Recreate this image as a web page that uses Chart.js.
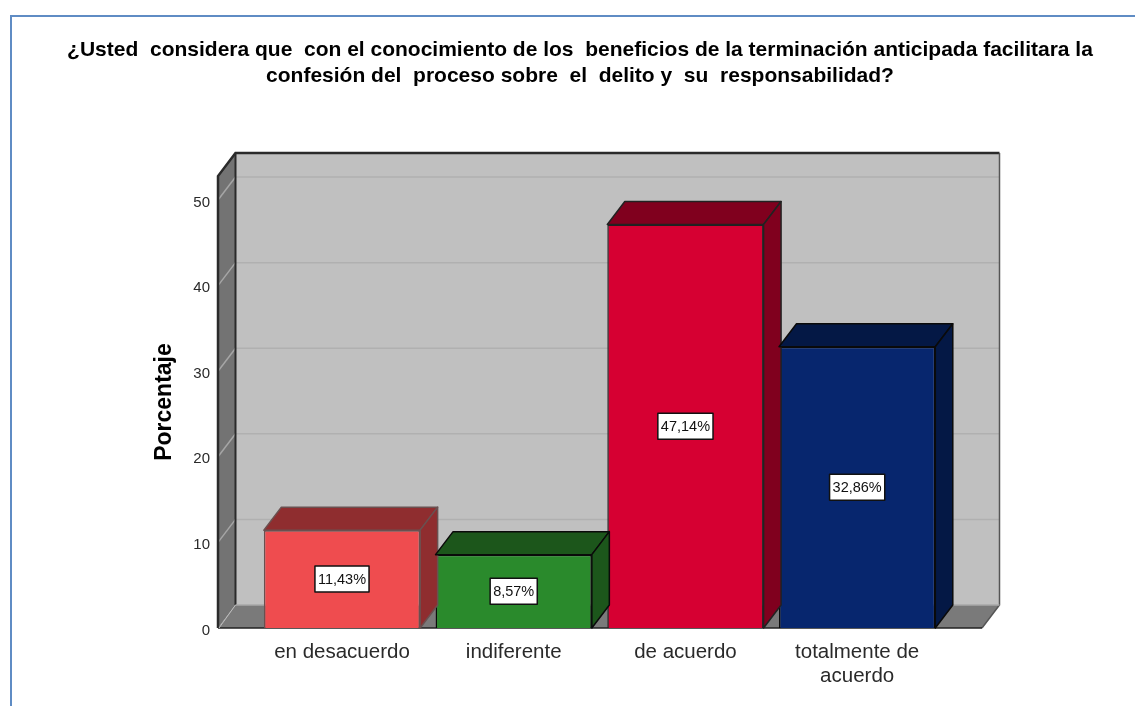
<!DOCTYPE html>
<html>
<head>
<meta charset="utf-8">
<style>html,body{margin:0;padding:0;background:#fff;overflow:hidden}canvas{display:block}</style>
<script src="https://cdn.jsdelivr.net/npm/chart.js@4"></script>
</head>
<body>
<canvas id="c" width="1135" height="706"></canvas>
<script>
const titleLines = [
  "¿Usted  considera que  con el conocimiento de los  beneficios de la terminación anticipada facilitara la",
  "confesión del  proceso sobre  el  delito y  su  responsabilidad?"
];
const yTitle = "Porcentaje";
const categories = [["en desacuerdo"], ["indiferente"], ["de acuerdo"], ["totalmente de", "acuerdo"]];
const values = [11.43, 8.57, 47.14, 32.86];
const valueLabels = ["11,43%", "8,57%", "47,14%", "32,86%"];
const yTicks = [0, 10, 20, 30, 40, 50];
const frontColors = ["#EF4C4F", "#2A8A2C", "#D60032", "#07266E"];
const sideColors = ["#8F2D2F", "#1C561B", "#80001E", "#041845"];
const edgeColors = ["#6a5050", "#0a0a0a", "#222222", "#0a0a0a"];

const FONT = "'Liberation Sans', Arial, sans-serif";
const DX = 17.5, DY = -23;

const scene = {
  id: "scene",
  afterLayout(chart) {
    chart.titleBlock.left = 25;
    chart.titleBlock.right = 1135;
  },
  beforeDraw(chart) {
    const c = chart.ctx;
    c.save();
    c.fillStyle = "#fff";
    c.fillRect(0, 0, chart.width, chart.height);
    c.strokeStyle = "#5F8CC4";
    c.lineWidth = 2;
    c.beginPath();
    c.moveTo(11, chart.height);
    c.lineTo(11, 16);
    c.lineTo(chart.width, 16);
    c.stroke();
    c.restore();
  },
  beforeDatasetsDraw(chart) {
    const c = chart.ctx, a = chart.chartArea, y = chart.scales.y;
    const L = a.left, R = a.right, T = a.top, B = a.bottom;
    c.save();
    c.fillStyle = "#C0C0C0";
    c.fillRect(L + DX, T + DY, R - L, B - T);
    c.fillStyle = "#737373";
    c.beginPath();
    c.moveTo(L, B); c.lineTo(L, T); c.lineTo(L + DX, T + DY); c.lineTo(L + DX, B + DY);
    c.closePath(); c.fill();
    c.fillStyle = "#7A7A7A";
    c.beginPath();
    c.moveTo(L, B); c.lineTo(R, B); c.lineTo(R + DX, B + DY); c.lineTo(L + DX, B + DY);
    c.closePath(); c.fill();
    c.lineWidth = 1.5;
    yTicks.slice(1).forEach(v => {
      const p = y.getPixelForValue(v);
      c.strokeStyle = "#B0B0B0";
      c.beginPath(); c.moveTo(L + DX, p + DY); c.lineTo(R + DX, p + DY); c.stroke();
      c.strokeStyle = "#A6A6A6";
      c.beginPath(); c.moveTo(L, p); c.lineTo(L + DX, p + DY); c.stroke();
    });
    c.strokeStyle = "#2A2A2A";
    c.lineWidth = 2.5;
    c.beginPath(); c.moveTo(L, B); c.lineTo(L, T); c.lineTo(L + DX, T + DY); c.lineTo(R + DX, T + DY); c.stroke();
    c.lineWidth = 2;
    c.beginPath(); c.moveTo(L + DX, T + DY); c.lineTo(L + DX, B + DY); c.stroke();
    c.strokeStyle = "#555";
    c.lineWidth = 1.5;
    c.beginPath(); c.moveTo(R + DX, T + DY); c.lineTo(R + DX, B + DY); c.lineTo(R, B); c.stroke();
    c.strokeStyle = "#A8A8A8";
    c.beginPath(); c.moveTo(L + DX, B + DY); c.lineTo(R + DX, B + DY); c.stroke();
    c.strokeStyle = "#222";
    c.beginPath(); c.moveTo(L, B); c.lineTo(R, B); c.stroke();
    c.strokeStyle = "#BDBDBD";
    c.lineWidth = 1;
    c.beginPath(); c.moveTo(L + 1, B); c.lineTo(L + DX, B + DY); c.stroke();
    c.restore();
  },
  afterDatasetsDraw(chart) {
    const c = chart.ctx;
    const bars = chart.getDatasetMeta(0).data;
    c.save();
    bars.forEach((bar, i) => {
      const l = bar.x - bar.width / 2, r = bar.x + bar.width / 2, t = bar.y, b = bar.base;
      c.lineWidth = 1.5;
      c.lineJoin = "round";
      c.strokeStyle = edgeColors[i];
      c.fillStyle = sideColors[i];
      c.beginPath();
      c.moveTo(l, t); c.lineTo(l + DX, t + DY); c.lineTo(r + DX, t + DY); c.lineTo(r, t);
      c.closePath(); c.fill(); c.stroke();
      c.beginPath();
      c.moveTo(r, t); c.lineTo(r + DX, t + DY); c.lineTo(r + DX, b + DY); c.lineTo(r, b);
      c.closePath(); c.fill(); c.stroke();
    });
    bars.forEach((bar, i) => {
      const cy = (bar.y + bar.base) / 2;
      c.font = "14.5px " + FONT;
      const w = c.measureText(valueLabels[i]).width + 6, h = 26;
      c.fillStyle = "#fff";
      c.fillRect(bar.x - w / 2, cy - h / 2, w, h);
      c.strokeStyle = "#111";
      c.lineWidth = 1.5;
      c.strokeRect(bar.x - w / 2, cy - h / 2, w, h);
      c.fillStyle = "#111";
      c.textAlign = "center";
      c.textBaseline = "middle";
      c.fillText(valueLabels[i], bar.x, cy + 1);
    });
    c.restore();
  }
};

new Chart(document.getElementById("c"), {
  type: "bar",
  plugins: [scene],
  data: {
    datasets: [{
      data: values.map((v, i) => ({ x: i, y: v })),
      backgroundColor: frontColors,
      borderColor: edgeColors,
      borderWidth: 1.5,
      barPercentage: 0.91,
      categoryPercentage: 1
    }]
  },
  options: {
    responsive: false,
    animation: false,
    layout: { padding: { left: 0, right: 153, top: 0, bottom: 0 } },
    plugins: {
      legend: { display: false },
      tooltip: { enabled: false },
      title: {
        display: true,
        text: titleLines,
        color: "#000",
        font: { family: FONT, size: 21, weight: "bold", lineHeight: 1.24 },
        padding: { top: 37, bottom: 87 }
      }
    },
    scales: {
      x: {
        type: "linear",
        offset: false,
        min: -0.722,
        max: 3.727,
        grid: { display: false, drawTicks: false },
        border: { display: false },
        afterFit(s) { s.height = 78; },
        ticks: {
          stepSize: 1,
          includeBounds: false,
          autoSkip: false,
          maxRotation: 0,
          padding: 12,
          color: "#2a2a2a",
          font: { family: FONT, size: 20.5, lineHeight: 1.17 },
          callback: v => categories[v]
        }
      },
      y: {
        min: 0,
        max: 52.8,
        grid: { display: false, drawTicks: false },
        border: { display: false },
        afterFit(s) { s.width = 218; },
        title: {
          display: true,
          text: yTitle,
          color: "#000",
          font: { family: FONT, size: 23, weight: "bold" },
          padding: { top: 151, bottom: 0 }
        },
        ticks: {
          stepSize: 10,
          includeBounds: false,
          padding: 8,
          labelOffset: 2.5,
          color: "#2a2a2a",
          font: { family: FONT, size: 15 }
        }
      }
    }
  }
});
</script>
</body>
</html>
